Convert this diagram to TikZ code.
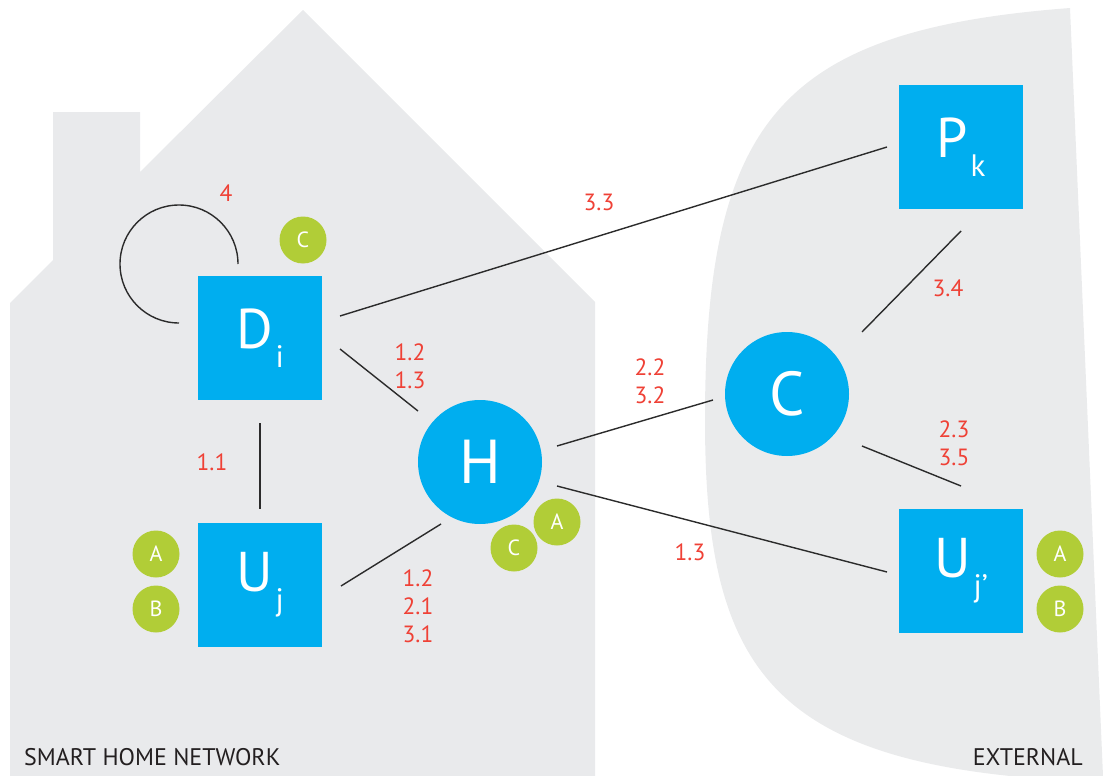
\documentclass[tikz,border=0pt]{standalone}
\usepackage{fontspec}
\setmainfont{PT Sans}
\definecolor{housegray}{HTML}{E9EAEC}
\definecolor{extgray}{HTML}{EAEBEC}
\definecolor{nodeblue}{HTML}{00AEEF}
\definecolor{taggreen}{HTML}{B1CD37}
\definecolor{stepred}{HTML}{EF4136}
\definecolor{linkgray}{HTML}{2B2B2B}
\definecolor{areatext}{HTML}{231F20}
% main letter with a lowered subscript
\newcommand{\devname}[2]{#1\kern3pt\raisebox{-19pt}{\fontsize{31}{31}\selectfont #2}}
\begin{document}
\begin{tikzpicture}[x=1pt,y=-1pt,
  device/.style={fill=nodeblue, minimum size=124pt, inner sep=0pt, text=white,
    font=\fontsize{56}{56}\selectfont},
  hub/.style={circle, fill=nodeblue, minimum size=124pt, inner sep=0pt, text=white,
    font=\fontsize{62}{62}\selectfont},
  tag/.style={circle, fill=taggreen, minimum size=47pt, inner sep=0pt, text=white,
    font=\fontsize{22}{22}\selectfont},
  steplabel/.style={text=stepred, font=\fontsize{23.5}{28}\selectfont, align=center, inner sep=0pt},
  link/.style={draw=linkgray, line width=1.4pt},
  area/.style={text=areatext, font=\fontsize{24}{24}\selectfont, inner sep=0pt}
]
\useasboundingbox (0,0) rectangle (1109,776);

% smart home outline with chimney
\fill[housegray] (10,776) -- (10,303) -- (53,260) -- (53,112) -- (140,112) -- (140,172)
  -- (303,10) -- (595,302) -- (595,776) -- cycle;

% external region
\fill[extgray] (1070,8) -- (1103,776) -- (1010,776)
  .. controls (760,750) and (705,650) .. (705,420)
  .. controls (705,120) and (780,30) .. (1070,8) -- cycle;

% devices, hub, cloud, provider
\node[device] (D) at (260,338) {\devname{D}{i}};
\node[device] (U) at (260,585) {\devname{U}{j}};
\node[hub] (H) at (480,462) {H};
\node[hub] (C) at (787,394) {C};
\node[device] (P) at (961,147) {\devname{P}{k}};
\node[device] (X) at (961,571) {\devname{U}{j’}};

% key tags
\node[tag] (tagDC) at (303,240) {C};
\node[tag] (tagUA) at (156,554) {A};
\node[tag] (tagUB) at (156,609) {B};
\node[tag] (tagHC) at (514,548) {C};
\node[tag] (tagHA) at (557,522) {A};
\node[tag] (tagXA) at (1060,554) {A};
\node[tag] (tagXB) at (1060,609) {B};

% connector end points
\coordinate (du1) at (260,423);  \coordinate (du2) at (260,509);
\coordinate (dh1) at (340,349);  \coordinate (dh2) at (418,411);
\coordinate (uh1) at (341,586);  \coordinate (uh2) at (441,524);
\coordinate (dp1) at (340,316);  \coordinate (dp2) at (887,147);
\coordinate (hc1) at (557,446);  \coordinate (hc2) at (713,400);
\coordinate (hx1) at (557,486);  \coordinate (hx2) at (887,572);
\coordinate (cp1) at (862,332);  \coordinate (cp2) at (961,231);
\coordinate (cx1) at (862,446);  \coordinate (cx2) at (961,486);
\coordinate (loop) at (238,264);

\draw[link] (du1) -- (du2);
\draw[link] (dh1) -- (dh2);
\draw[link] (uh1) -- (uh2);
\draw[link] (dp1) -- (dp2);
\draw[link] (hc1) -- (hc2);
\draw[link] (hx1) -- (hx2);
\draw[link] (cp1) -- (cp2);
\draw[link] (cx1) -- (cx2);
\draw[link] (loop) arc[start angle=0, end angle=-270, radius=59];

% step numbers
\node[steplabel] (l4) at (226,193) {4};
\node[steplabel] (l33) at (599,202) {3.3};
\node[steplabel] (l1213) at (410,366) {1.2\\1.3};
\node[steplabel] (l11) at (212,462) {1.1};
\node[steplabel] (l122131) at (418,606) {1.2\\2.1\\3.1};
\node[steplabel] (l2232) at (650,381) {2.2\\3.2};
\node[steplabel] (l2335) at (954,443) {2.3\\3.5};
\node[steplabel] (l13) at (690,552) {1.3};
\node[steplabel] (l34) at (948,288) {3.4};

% region captions
\node[area, anchor=base west] (home) at (24,765) {SMART HOME NETWORK};
\node[area, anchor=base east] (ext) at (1083,765) {EXTERNAL};
\end{tikzpicture}
\end{document}
